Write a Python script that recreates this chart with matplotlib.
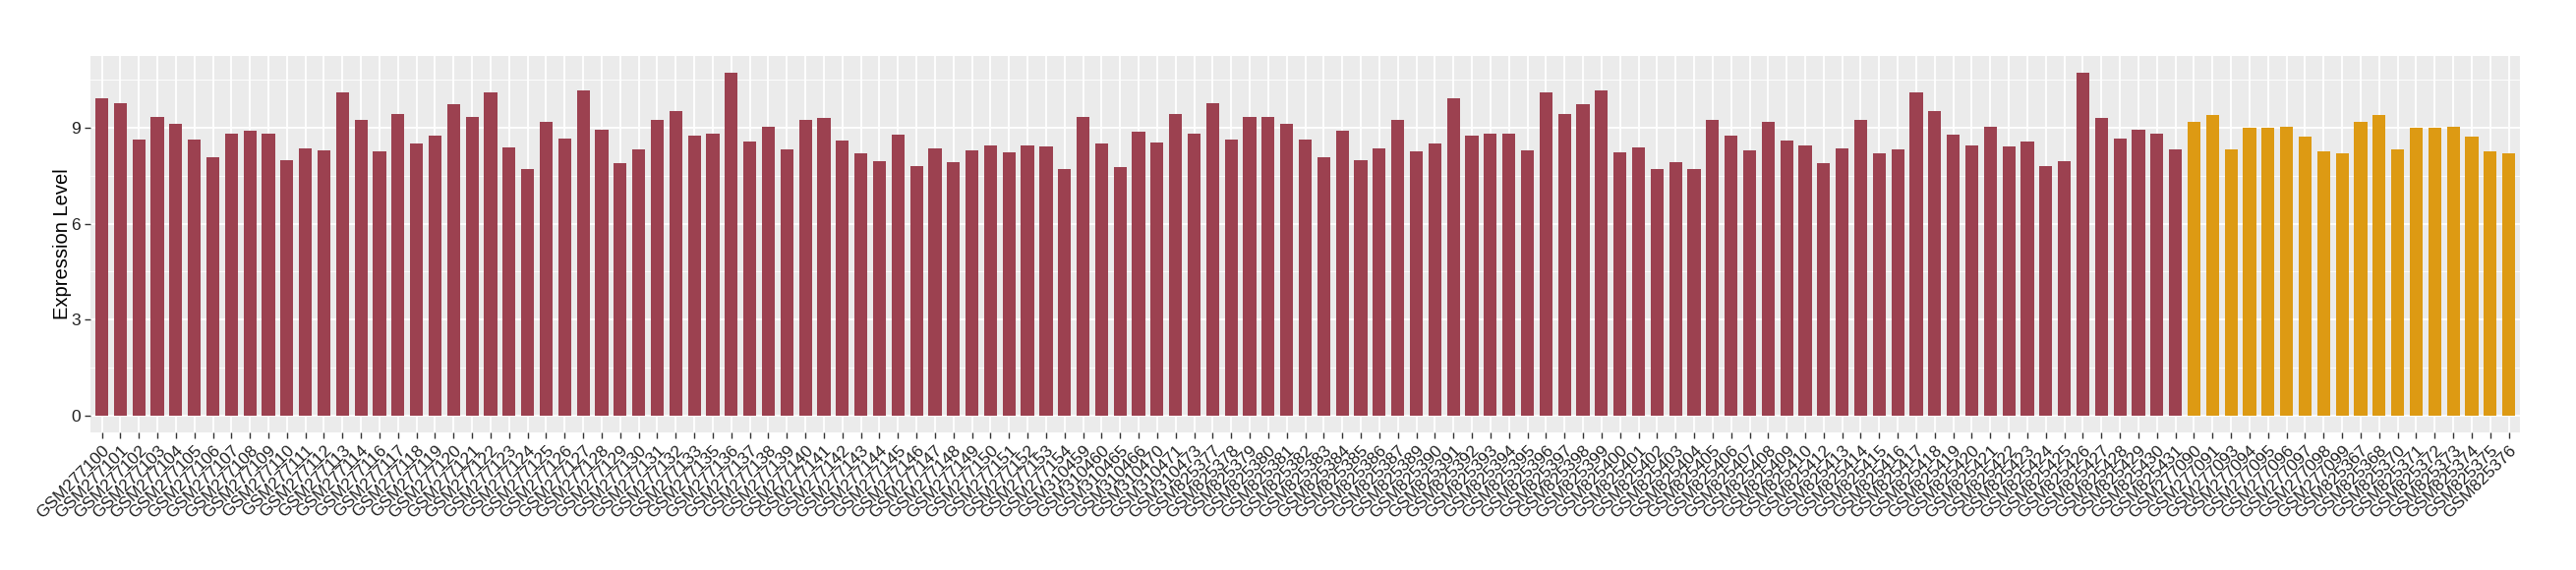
import matplotlib
matplotlib.use("Agg")
import matplotlib.pyplot as plt
import numpy as np

plt.rcParams['font.family'] = ['Liberation Sans', 'DejaVu Sans']

samples = [
    "GSM277100", "GSM277101", "GSM277102", "GSM277103", "GSM277104", "GSM277105",
    "GSM277106", "GSM277107", "GSM277108", "GSM277109", "GSM277110", "GSM277111",
    "GSM277112", "GSM277113", "GSM277114", "GSM277116", "GSM277117", "GSM277118",
    "GSM277119", "GSM277120", "GSM277121", "GSM277122", "GSM277123", "GSM277124",
    "GSM277125", "GSM277126", "GSM277127", "GSM277128", "GSM277129", "GSM277130",
    "GSM277131", "GSM277132", "GSM277133", "GSM277135", "GSM277136", "GSM277137",
    "GSM277138", "GSM277139", "GSM277140", "GSM277141", "GSM277142", "GSM277143",
    "GSM277144", "GSM277145", "GSM277146", "GSM277147", "GSM277148", "GSM277149",
    "GSM277150", "GSM277151", "GSM277152", "GSM277153", "GSM277154", "GSM310459",
    "GSM310460", "GSM310465", "GSM310466", "GSM310470", "GSM310471", "GSM310473",
    "GSM825377", "GSM825378", "GSM825379", "GSM825380", "GSM825381", "GSM825382",
    "GSM825383", "GSM825384", "GSM825385", "GSM825386", "GSM825387", "GSM825389",
    "GSM825390", "GSM825391", "GSM825392", "GSM825393", "GSM825394", "GSM825395",
    "GSM825396", "GSM825397", "GSM825398", "GSM825399", "GSM825400", "GSM825401",
    "GSM825402", "GSM825403", "GSM825404", "GSM825405", "GSM825406", "GSM825407",
    "GSM825408", "GSM825409", "GSM825410", "GSM825412", "GSM825413", "GSM825414",
    "GSM825415", "GSM825416", "GSM825417", "GSM825418", "GSM825419", "GSM825420",
    "GSM825421", "GSM825422", "GSM825423", "GSM825424", "GSM825425", "GSM825426",
    "GSM825427", "GSM825428", "GSM825429", "GSM825430", "GSM825431",
    "GSM277090", "GSM277091", "GSM277093", "GSM277094", "GSM277095", "GSM277096",
    "GSM277097", "GSM277098", "GSM277099", "GSM825367", "GSM825368", "GSM825370",
    "GSM825371", "GSM825372", "GSM825373", "GSM825374", "GSM825375", "GSM825376",
]

values = [
    9.92, 9.76, 8.63, 9.34, 9.12, 8.63, 8.08, 8.81, 8.91, 8.81, 7.99, 8.35,
    8.29, 10.10, 9.24, 8.26, 9.43, 8.51, 8.75, 9.73, 9.34, 10.10, 8.38, 7.71,
    9.18, 8.66, 10.16, 8.94, 7.89, 8.32, 9.24, 9.52, 8.75, 8.81, 10.72, 8.57,
    9.03, 8.32, 9.24, 9.30, 8.60, 8.20, 7.96, 8.78, 7.80, 8.35, 7.92, 8.29,
    8.45, 8.23, 8.45, 8.42, 7.71, 9.34, 8.51, 7.77, 8.88, 8.54, 9.43, 8.81,
    9.76, 8.63, 9.34, 9.34, 9.12, 8.63, 8.08, 8.91, 7.99, 8.35, 9.24, 8.26,
    8.51, 9.92, 8.75, 8.81, 8.81, 8.29, 10.10, 9.43, 9.73, 10.16, 8.23, 8.38,
    7.71, 7.92, 7.71, 9.24, 8.75, 8.29, 9.18, 8.60, 8.45, 7.89, 8.35, 9.24,
    8.20, 8.32, 10.10, 9.52, 8.78, 8.45, 9.03, 8.42, 8.57, 7.80, 7.96, 10.72,
    9.30, 8.66, 8.94, 8.81, 8.32,
    9.18, 9.40, 8.32, 9.00, 9.00, 9.03, 8.72, 8.26, 8.20, 9.18, 9.40, 8.32,
    9.00, 9.00, 9.03, 8.72, 8.26, 8.20,
]

groups = ["A"] * 113 + ["B"] * 18
group_colors = {"A": "#9C4150", "B": "#DD9A13"}

fig = plt.figure(figsize=(26.2, 5.8), dpi=100)
ax = fig.add_axes([0.0352, 0.2414, 0.9430, 0.6608])

x = np.arange(len(samples))
ax.set_facecolor("#EBEBEB")
ax.bar(x, values, width=0.7, color=[group_colors[g] for g in groups], zorder=3)

ax.set_xlim(-0.6, len(samples) - 1 + 0.6)
vmax = max(values)
ax.set_ylim(-0.05 * vmax, vmax * 1.05)

ax.set_yticks([0, 3, 6, 9])
ax.set_yticks([1.5, 4.5, 7.5, 10.5], minor=True)
ax.set_xticks(x)
ax.set_xticklabels(samples, rotation=45, ha="right", va="top",
                   rotation_mode="anchor", fontsize=12.5, color="#222222")
ax.tick_params(axis="y", labelsize=12.5, labelcolor="#222222")
ax.tick_params(axis="both", which="major", length=4, width=1, color="#333333")
ax.tick_params(axis="both", which="minor", length=0)

ax.grid(which="major", color="white", linewidth=1.3, zorder=0)
ax.grid(which="minor", axis="y", color="white", linewidth=0.6, zorder=0)
ax.set_axisbelow(True)
for s in ax.spines.values():
    s.set_visible(False)

ax.set_ylabel("Expression Level", fontsize=14.5, color="black")
ax.yaxis.set_label_coords(-0.0078, 0.5)

fig.savefig("out.png", dpi=100)
